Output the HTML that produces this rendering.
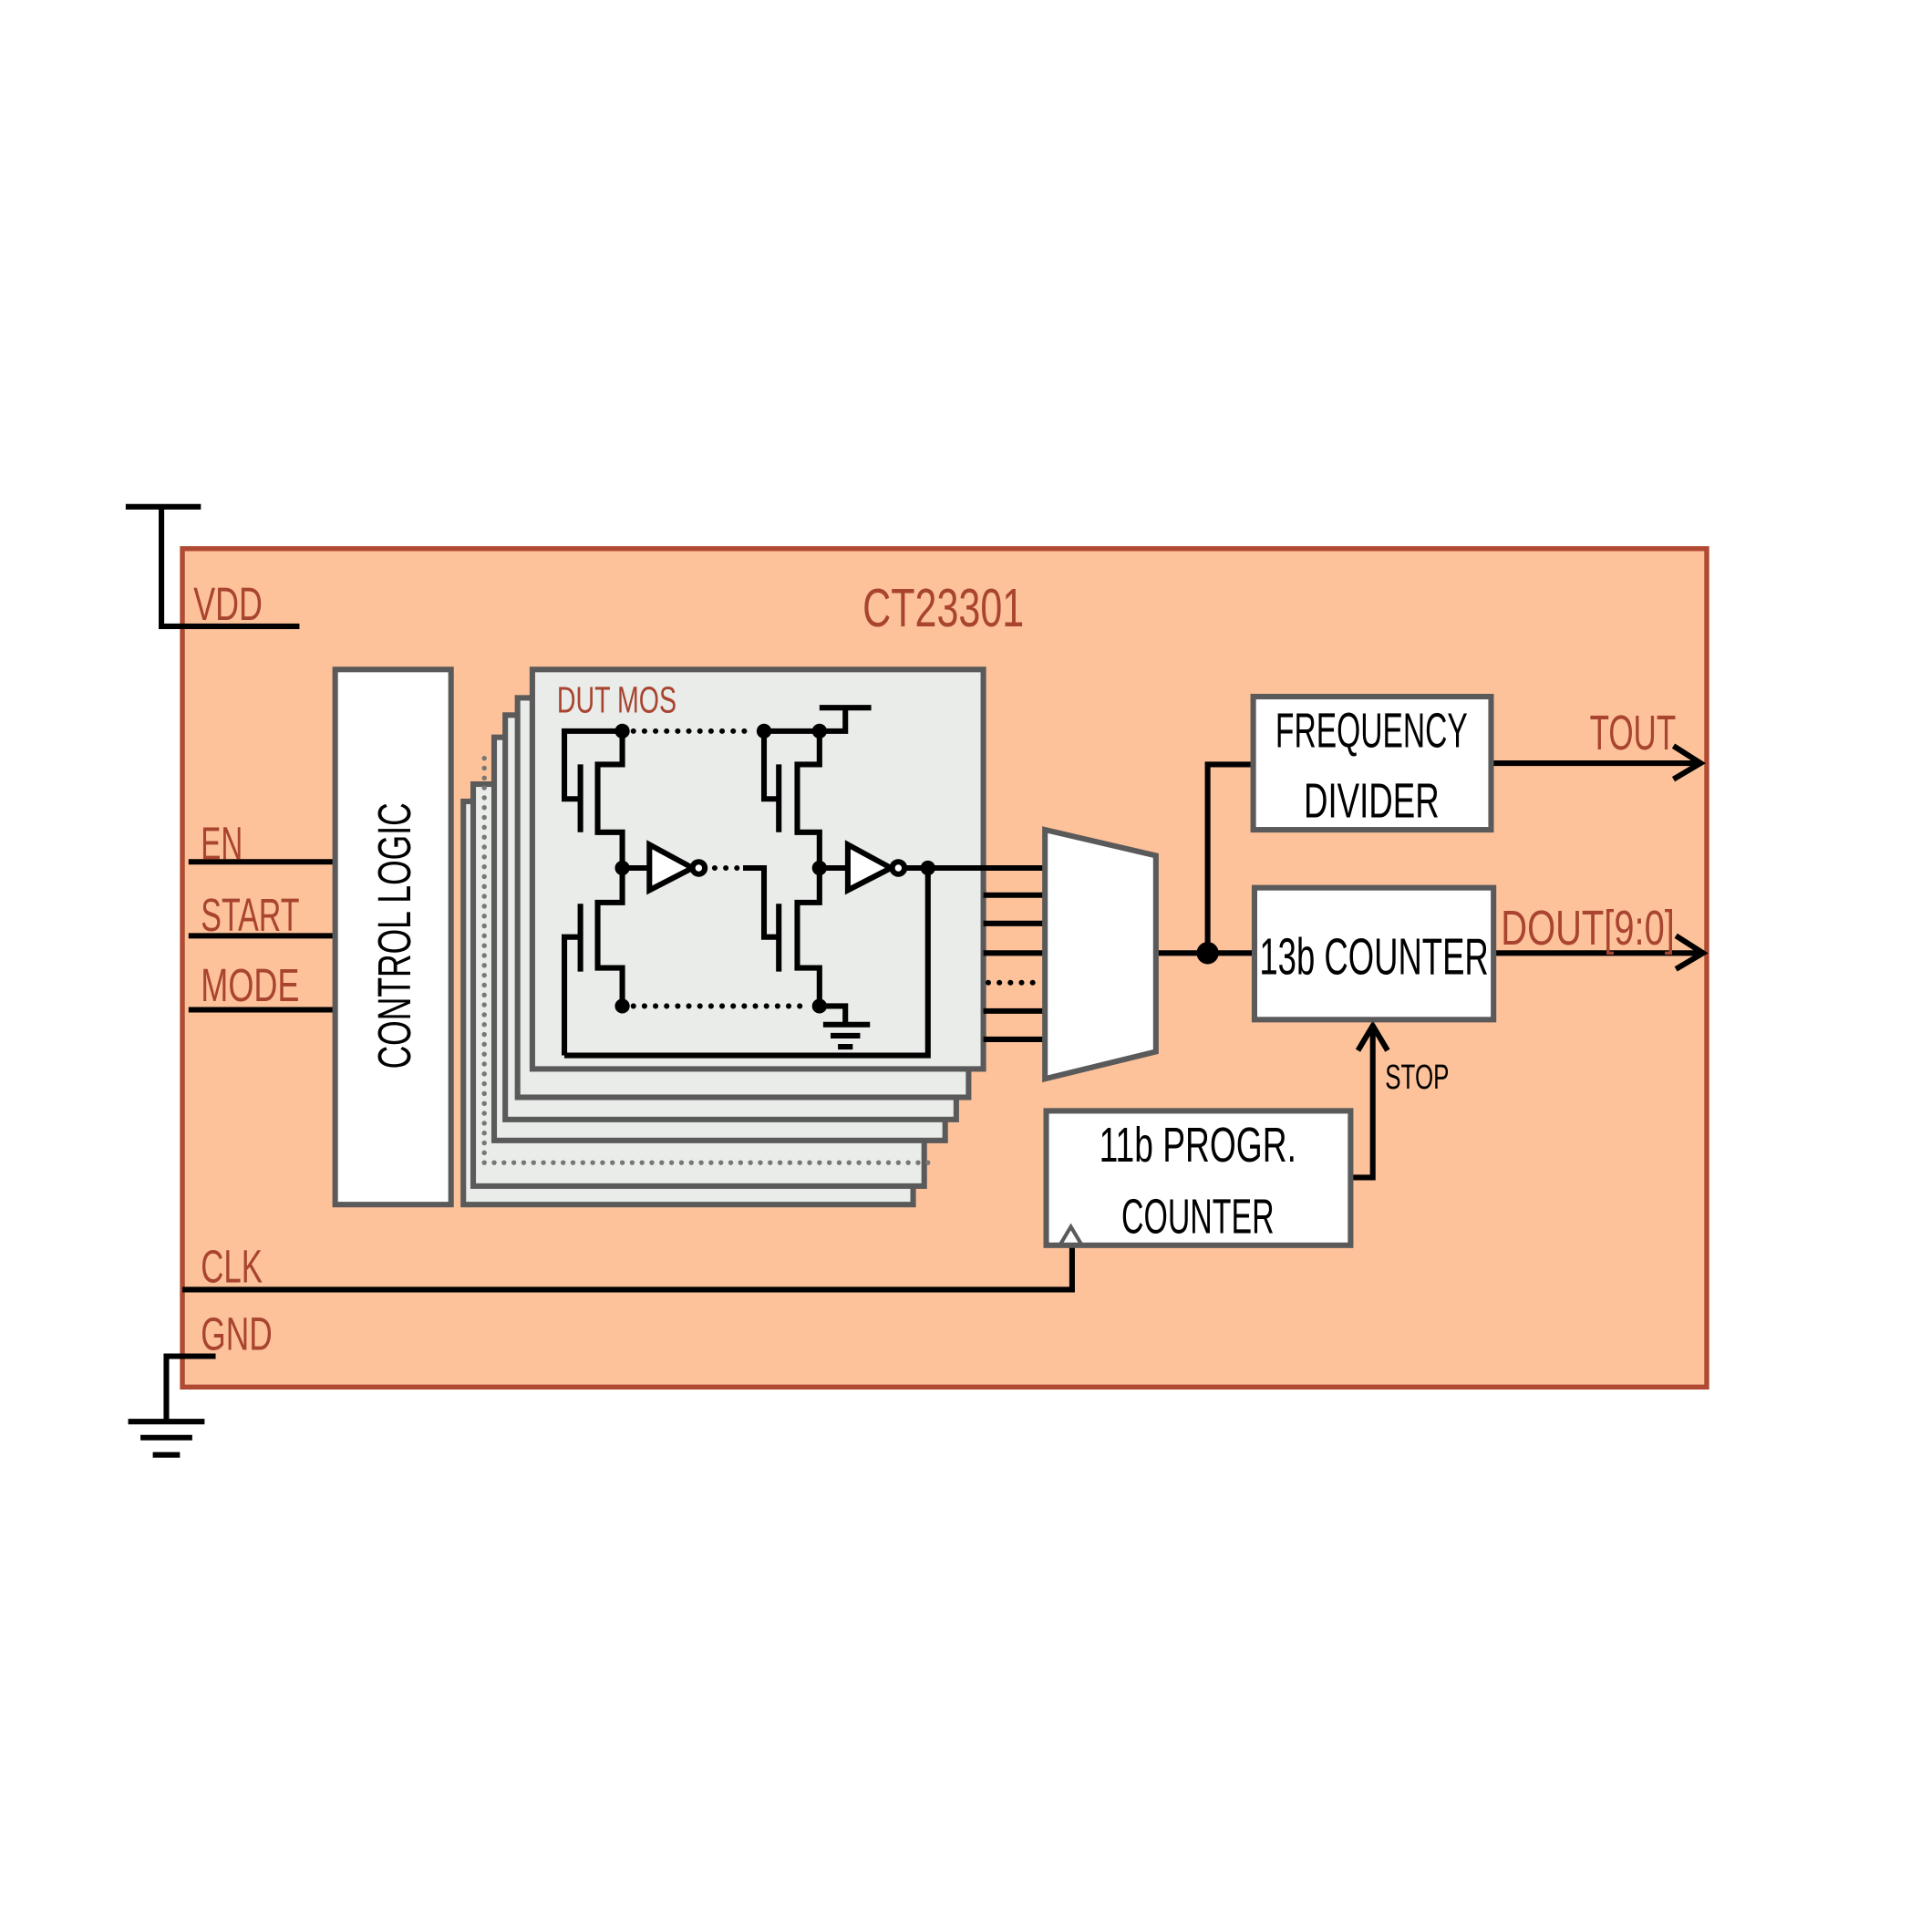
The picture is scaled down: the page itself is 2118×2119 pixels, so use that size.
<!DOCTYPE html>
<html><head><meta charset="utf-8"><style>
html,body{margin:0;padding:0;background:#fff;}
svg{display:block;}
text{font-family:"Liberation Sans Narrow","Liberation Sans",sans-serif;}
.r{fill:#a84430;}
.k{fill:#000;}
</style></head><body>
<svg width="2118" height="2119" viewBox="0 0 1567 1567" preserveAspectRatio="none" xmlns="http://www.w3.org/2000/svg">
<rect width="1567" height="1567" fill="#fff"/>
<rect x="148" y="445" width="1237" height="680" fill="#fdc29a" stroke="#b04a32" stroke-width="4"/>
<g stroke="#000" stroke-width="4.5" fill="none">
<path d="M102 411H163M131 411V508H243"/>
<path d="M175 1100H135V1153M104 1153H166M114 1166H156M124 1180H146"/>
<path d="M153 699H272M153 759H272M153 819H272"/>
<path d="M148 1046H870V1010"/>
</g>
<text x="157" y="503" class="r" font-size="38" textLength="56" lengthAdjust="spacingAndGlyphs">VDD</text>
<text x="700" y="508" class="r" font-size="44" textLength="131" lengthAdjust="spacingAndGlyphs">CT23301</text>
<text x="163" y="697" class="r" font-size="38" textLength="34" lengthAdjust="spacingAndGlyphs">EN</text>
<text x="163" y="755" class="r" font-size="38" textLength="80" lengthAdjust="spacingAndGlyphs">START</text>
<text x="163" y="812" class="r" font-size="38" textLength="80" lengthAdjust="spacingAndGlyphs">MODE</text>
<text x="163" y="1040" class="r" font-size="38" textLength="50" lengthAdjust="spacingAndGlyphs">CLK</text>
<text x="163" y="1095" class="r" font-size="38" textLength="58" lengthAdjust="spacingAndGlyphs">GND</text>
<rect x="272" y="543" width="94" height="434" fill="#fff" stroke="#5a5a5a" stroke-width="4.5"/>
<text transform="translate(333,867) rotate(-90)" class="k" font-size="38" textLength="216" lengthAdjust="spacingAndGlyphs">CONTROL LOGIC</text>
<g fill="#e9ece8" stroke="#5a5a5a" stroke-width="4.5">
<rect x="376" y="650" width="365" height="327"/>
<rect x="384" y="636" width="366" height="326"/>
<rect x="401" y="598" width="366" height="327"/>
<rect x="410" y="580" width="366" height="328"/>
<rect x="420" y="566" width="366" height="324"/>
<rect x="432" y="543" width="366" height="324"/>
</g>
<g stroke="#777" stroke-width="4" stroke-linecap="round" stroke-dasharray="0 8" fill="none">
<path d="M393 615V943H760"/>
</g>
<text x="452" y="578" class="r" font-size="30" textLength="97" lengthAdjust="spacingAndGlyphs">DUT MOS</text>
<g stroke="#000" stroke-width="4.5" fill="none">
<path d="M665 574H707M686 574V593H620M505 593H458V648H470"/>
<path d="M471 620V675M485 620V675M505 593V620H485V675H505V732H485V785H505V816"/>
<path d="M471 733V788M458 856V760H471M458 856H753V704"/>
<path d="M620 593V648H632M632 620V675M647 620V675M665 593V620H647V675H665V732H647V785H665V816"/>
<path d="M603 704H620V760H632M632 733V788"/>
<path d="M665 816H686V831M668 831H706M674 840H698M680 849H692"/>
<path d="M505 704H527M665 704H688M735 704H848"/>
<path d="M798 726H848M798 749H848M798 773H848M798 820H848M798 843H848"/>
<path d="M938 773H1018M980 773V620H1017M1210 619H1380M1358 605L1380 619L1358 632M1212 773H1382M1360 759L1382 773L1360 786M1096 955H1114V832M1102 852L1114 832L1126 852"/>
</g>
<g stroke="#000" stroke-width="4.5" stroke-linecap="round" stroke-dasharray="0 9" fill="none">
<path d="M514 593H612M514 816H658M580 704H600M802 797H846"/>
</g>
<g fill="#000">
<circle cx="505" cy="593" r="6"/><circle cx="620" cy="593" r="6"/><circle cx="665" cy="593" r="6"/>
<circle cx="505" cy="704" r="6"/><circle cx="665" cy="704" r="6"/><circle cx="753" cy="704" r="6"/>
<circle cx="505" cy="816" r="6"/><circle cx="665" cy="816" r="6"/><circle cx="980" cy="773" r="9"/>
</g>
<g fill="#fff" stroke="#000" stroke-width="4.5">
<path d="M527 685L527 722L562 704Z"/><circle cx="567" cy="704" r="5"/>
<path d="M688 685L688 722L723 704Z"/><circle cx="729" cy="704" r="5"/>
</g>
<g fill="#fff" stroke="#5a5a5a" stroke-width="4.5">
<path d="M848 673L938 694L938 853L848 875Z"/>
<rect x="1017" y="565" width="193" height="108"/>
<rect x="1018" y="720" width="194" height="107"/>
<rect x="849" y="901" width="247" height="109"/>
</g>
<path d="M860 1010L869 995L878 1010" fill="none" stroke="#5a5a5a" stroke-width="3"/>
<text x="1113" y="606" class="k" font-size="40" text-anchor="middle" textLength="156" lengthAdjust="spacingAndGlyphs">FREQUENCY</text>
<text x="1113" y="663" class="k" font-size="40" text-anchor="middle" textLength="110" lengthAdjust="spacingAndGlyphs">DIVIDER</text>
<text x="1115" y="790" class="k" font-size="42" text-anchor="middle" textLength="186" lengthAdjust="spacingAndGlyphs">13b COUNTER</text>
<text x="972" y="942" class="k" font-size="40" text-anchor="middle" textLength="160" lengthAdjust="spacingAndGlyphs">11b PROGR.</text>
<text x="972" y="1000" class="k" font-size="40" text-anchor="middle" textLength="124" lengthAdjust="spacingAndGlyphs">COUNTER</text>
<text x="1290" y="608" class="r" font-size="40" textLength="70" lengthAdjust="spacingAndGlyphs">TOUT</text>
<text x="1218" y="766" class="r" font-size="40" textLength="141" lengthAdjust="spacingAndGlyphs">DOUT[9:0]</text>
<text x="1124" y="883" class="k" font-size="28" textLength="52" lengthAdjust="spacingAndGlyphs">STOP</text>
</svg>
</body></html>
